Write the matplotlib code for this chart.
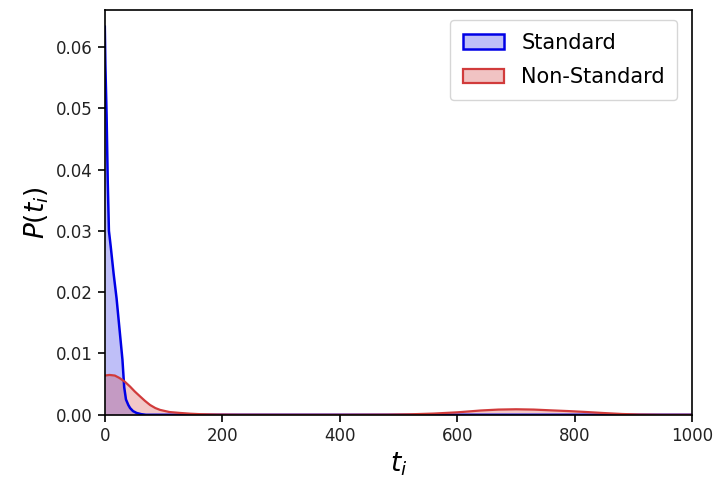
import matplotlib
matplotlib.use("Agg")
import matplotlib.pyplot as plt
import numpy as np
from matplotlib.patches import Patch

# Standard (blue) density
std_t = [0, 1, 3, 5, 7, 10, 15, 20, 25, 30, 33, 36, 40, 43, 48, 54, 62, 70, 1000]
std_p = [0.0633, 0.057, 0.049, 0.038, 0.030, 0.0275, 0.023, 0.019, 0.014, 0.009, 0.0045, 0.0025, 0.0016, 0.0011, 0.0006, 0.0003, 0.0001, 0.0, 0.0]

# Non-Standard (red) density
ns_t = [0, 8, 17, 25, 34, 43, 51, 60, 68, 77, 86, 94, 110, 128, 145, 162, 190, 230, 300, 400,
        480, 520, 560, 600, 640, 670, 700, 730, 760, 790, 820, 850, 880, 910, 950, 1000]
ns_p = [0.0064, 0.0065, 0.0064, 0.0060, 0.0054, 0.0046, 0.0038, 0.0030, 0.0023, 0.0016, 0.0011, 0.0008, 0.00045, 0.0003, 0.00018, 0.0001, 0.00004, 0.00001, 0.0, 0.0,
        0.00002, 0.00008, 0.0002, 0.0004, 0.0007, 0.00085, 0.0009, 0.00085, 0.00072, 0.0006, 0.00045, 0.00028, 0.00013, 0.00004, 0.0, 0.0]

labels = ["Standard", "Non-Standard"]
blue = "#0000e6"
red = "#d13b3b"

fig = plt.figure(figsize=(7.13, 4.84), dpi=100)
ax = fig.add_axes([0.147, 0.143, 0.824, 0.836])

ax.fill_between(std_t, std_p, color=blue, alpha=0.25, linewidth=0)
ax.plot(std_t, std_p, color=blue, lw=1.8)
ax.fill_between(ns_t, ns_p, color=red, alpha=0.28, linewidth=0)
ax.plot(ns_t, ns_p, color=red, lw=1.6)

ax.set_xlim(0, 1000)
ax.set_ylim(0, 0.066)
ax.set_xticks([0, 200, 400, 600, 800, 1000])
ax.set_yticks([0.0, 0.01, 0.02, 0.03, 0.04, 0.05, 0.06])
ax.set_yticklabels(["0.00", "0.01", "0.02", "0.03", "0.04", "0.05", "0.06"])
ax.tick_params(labelsize=12, length=5, width=1.2, labelcolor="#222222")
for s in ax.spines.values():
    s.set_linewidth(1.2)

ax.set_xlabel(r"$t_i$", fontsize=19)
ax.set_ylabel(r"$P(t_i)$", fontsize=19)

handles = [Patch(facecolor=(0, 0, 0.9, 0.25), edgecolor=blue, lw=1.8),
           Patch(facecolor=(0.82, 0.23, 0.23, 0.3), edgecolor=red, lw=1.6)]
ax.legend(handles, labels, loc="upper right", fontsize=15, handlelength=2.0,
          borderpad=0.6, labelspacing=0.7, borderaxespad=0.0,
          bbox_to_anchor=(0.9744, 0.9753))

fig.savefig("out.png", dpi=100)
